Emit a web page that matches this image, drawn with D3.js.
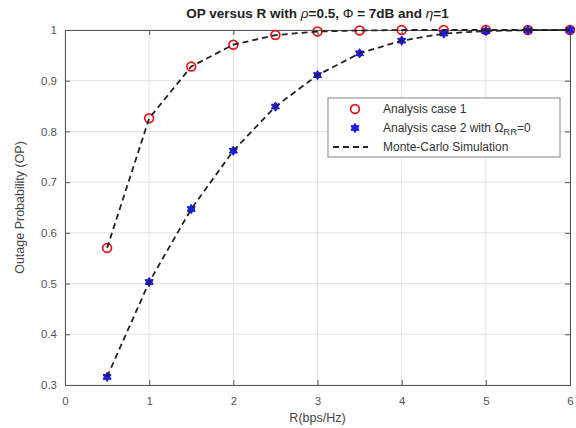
<!DOCTYPE html>
<html>
<head>
<meta charset="utf-8">
<script src="https://cdn.jsdelivr.net/npm/d3@7"></script>
<style>
  body { margin: 0; background: #fff; }
  svg { font-family: "Liberation Sans", Arial, sans-serif; }
</style>
</head>
<body>
<svg id="chart" width="576" height="428"></svg>
<script>
const rates = [0.5, 1, 1.5, 2, 2.5, 3, 3.5, 4, 4.5, 5, 5.5, 6];
const case1 = [0.570, 0.826, 0.928, 0.971, 0.990, 0.997, 0.999, 1, 1, 1, 1, 1];
const case2 = [0.316, 0.503, 0.647, 0.762, 0.849, 0.911, 0.954, 0.979, 0.993, 0.998, 0.9995, 1];
const mcCase1 = [0.570, 0.826, 0.928, 0.971, 0.990, 0.997, 0.999, 1, 1, 1, 1, 1];
const mcCase2 = [0.316, 0.503, 0.647, 0.762, 0.849, 0.911, 0.954, 0.979, 0.993, 0.998, 0.9995, 1];
const xTicks = [0, 1, 2, 3, 4, 5, 6];
const yTicks = [0.3, 0.4, 0.5, 0.6, 0.7, 0.8, 0.9, 1];

const svg = d3.select("#chart");
const margin = { left: 65, right: 6, top: 30, bottom: 43 };
const width = 576 - margin.left - margin.right,
  height = 428 - margin.top - margin.bottom;

const x = d3.scaleLinear().domain([0, 6]).range([0, width]);
const y = d3.scaleLinear().domain([0.3, 1]).range([height, 0]);

const g = svg.append("g").attr("transform", `translate(${margin.left},${margin.top})`);

// grid
g.append("g")
  .selectAll("line")
  .data(xTicks)
  .join("line")
  .attr("x1", (d) => x(d)).attr("x2", (d) => x(d))
  .attr("y1", 0).attr("y2", height)
  .attr("stroke", "#e3e3e3");
g.append("g")
  .selectAll("line")
  .data(yTicks)
  .join("line")
  .attr("y1", (d) => y(d)).attr("y2", (d) => y(d))
  .attr("x1", 0).attr("x2", width)
  .attr("stroke", "#e3e3e3");

// axes (ticks inward, matlab style)
const xAxis = d3.axisBottom(x).tickValues(xTicks).tickSize(-5).tickPadding(12).tickFormat(d3.format("d"));
const yAxis = d3.axisLeft(y).tickValues(yTicks).tickSize(-5).tickPadding(8).tickFormat((d) => (d === 1 ? "1" : d3.format(".1f")(d)));

const gx = g.append("g").attr("transform", `translate(0,${height})`).call(xAxis);
const gy = g.append("g").call(yAxis);
g.append("g").call(d3.axisTop(x).tickValues(xTicks).tickSize(-5).tickFormat(""));
g.append("g").attr("transform", `translate(${width},0)`).call(d3.axisRight(y).tickValues(yTicks).tickSize(-5).tickFormat(""));

g.selectAll(".domain, .tick line").attr("stroke", "#555");
[gx, gy].forEach((a) => a.selectAll("text").attr("fill", "#555").style("font-size", "11.5px"));

// hexagram marker
const hexagram = {
  draw(ctx, size) {
    const R = Math.sqrt(size) / 1.6, r = R / Math.sqrt(3);
    for (let k = 0; k < 12; k++) {
      const a = -Math.PI / 2 + (k * Math.PI) / 6;
      const rr = k % 2 === 0 ? R : r;
      if (k === 0) ctx.moveTo(rr * Math.cos(a), rr * Math.sin(a));
      else ctx.lineTo(rr * Math.cos(a), rr * Math.sin(a));
    }
    ctx.closePath();
  },
};

const line = d3.line().x((d) => x(d[0])).y((d) => y(d[1]));

// analysis case 1
g.append("g")
  .selectAll("circle")
  .data(d3.zip(rates, case1))
  .join("circle")
  .attr("cx", (d) => x(d[0]))
  .attr("cy", (d) => y(d[1]))
  .attr("r", 4.4)
  .attr("fill", "none")
  .attr("stroke", "#e8141c")
  .attr("stroke-width", 1.7);

// analysis case 2
g.append("g")
  .selectAll("path")
  .data(d3.zip(rates, case2))
  .join("path")
  .attr("transform", (d) => `translate(${x(d[0])},${y(d[1])})`)
  .attr("d", d3.symbol().type(hexagram).size(55))
  .attr("fill", "#1d1df0")
  .attr("stroke", "#1010d0")
  .attr("stroke-width", 1);

// monte-carlo
[mcCase1, mcCase2].forEach((s) => {
  g.append("path")
    .datum(d3.zip(rates, s))
    .attr("d", line)
    .attr("fill", "none")
    .attr("stroke", "#222")
    .attr("stroke-width", 1.8)
    .attr("stroke-dasharray", "6,4");
});

// title
svg.append("text")
  .attr("x", margin.left + width / 2)
  .attr("y", 18)
  .attr("text-anchor", "middle")
  .style("font-size", "13.5px")
  .style("font-weight", "bold")
  .attr("fill", "#222")
  .html('OP versus R with <tspan font-style="italic" font-weight="normal">ρ</tspan>=0.5, <tspan font-weight="normal">Φ</tspan> = 7dB and <tspan font-style="italic" font-weight="normal">η</tspan>=1');

// axis labels
svg.append("text")
  .attr("x", margin.left + width / 2)
  .attr("y", 422)
  .attr("text-anchor", "middle")
  .style("font-size", "12.5px")
  .attr("fill", "#444")
  .text("R(bps/Hz)");
svg.append("text")
  .attr("transform", `translate(24,${margin.top + height / 2}) rotate(-90)`)
  .attr("text-anchor", "middle")
  .style("font-size", "12.5px")
  .attr("fill", "#444")
  .text("Outage Probability (OP)");

// legend
const lg = svg.append("g").attr("transform", "translate(328,98)");
lg.append("rect")
  .attr("width", 232).attr("height", 59)
  .attr("fill", "#fff").attr("stroke", "#666").attr("stroke-width", 0.8);
lg.append("circle").attr("cx", 27).attr("cy", 11).attr("r", 4.4)
  .attr("fill", "none").attr("stroke", "#e8141c").attr("stroke-width", 1.7);
lg.append("path").attr("transform", "translate(27,30)")
  .attr("d", d3.symbol().type(hexagram).size(55))
  .attr("fill", "#1d1df0").attr("stroke", "#1010d0").attr("stroke-width", 1);
lg.append("line").attr("x1", 5).attr("x2", 40).attr("y1", 49).attr("y2", 49)
  .attr("stroke", "#222").attr("stroke-width", 1.8).attr("stroke-dasharray", "6,4");

const legendText = lg.append("g").style("font-size", "12px").attr("fill", "#333");
legendText.append("text").attr("x", 55).attr("y", 15).text("Analysis case 1");
legendText.append("text").attr("x", 55).attr("y", 34)
  .html('Analysis case 2 with Ω<tspan dy="3" font-size="9.5px">RR</tspan><tspan dy="-3">=0</tspan>');
legendText.append("text").attr("x", 55).attr("y", 53).text("Monte-Carlo Simulation");
</script>
</body>
</html>
